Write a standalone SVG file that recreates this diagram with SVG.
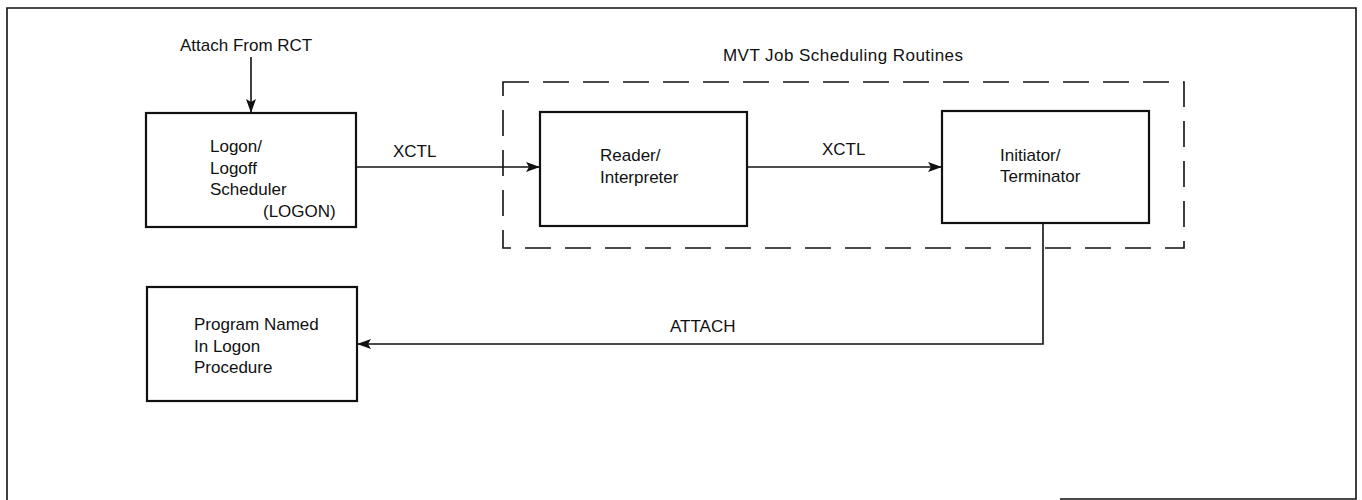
<svg xmlns="http://www.w3.org/2000/svg" width="1362" height="500" viewBox="0 0 1362 500">
<style>
text{font-family:"Liberation Sans",Arial,sans-serif;font-size:17px;fill:#111}
.box{fill:#fff;stroke:#111;stroke-width:2.2}
.ln{fill:none;stroke:#111;stroke-width:1.6}
.dash{fill:none;stroke:#111;stroke-width:1.6;stroke-dasharray:26 14}
</style>
<defs>
<marker id="ah" viewBox="0 0 14 10" refX="14" refY="5" markerWidth="14" markerHeight="10" markerUnits="userSpaceOnUse" orient="auto">
<path d="M0,0 L14,5 L0,10 L3,5 Z" fill="#111"/>
</marker>
</defs>
<path d="M7,500 L7,8 L1356,8 L1356,499 L1060,499" fill="none" stroke="#111" stroke-width="1.6"/>
<g id="group-mvt">
<rect class="dash" x="503" y="82" width="681" height="166"/>
<text x="723" y="61" textLength="240">MVT Job Scheduling Routines</text>
</g>
<g id="connectors">
<line class="ln" x1="251" y1="57" x2="251" y2="113" marker-end="url(#ah)"/>
<text x="180" y="51">Attach From RCT</text>
<line class="ln" x1="356" y1="167" x2="540" y2="167" marker-end="url(#ah)"/>
<text x="393" y="157">XCTL</text>
<line class="ln" x1="747" y1="167" x2="942" y2="167" marker-end="url(#ah)"/>
<text x="822" y="155">XCTL</text>
<polyline class="ln" points="1043,223 1043,344 357,344" marker-end="url(#ah)"/>
<text x="670" y="332">ATTACH</text>
</g>
<g id="node-logon">
<rect class="box" x="146" y="113" width="210" height="114"/>
<text x="210" y="152">Logon/</text>
<text x="210" y="174">Logoff</text>
<text x="210" y="195">Scheduler</text>
<text x="263" y="217">(LOGON)</text>
</g>
<g id="node-reader">
<rect class="box" x="540" y="112" width="207" height="114"/>
<text x="600" y="161">Reader/</text>
<text x="600" y="183">Interpreter</text>
</g>
<g id="node-initiator">
<rect class="box" x="942" y="111" width="207" height="112"/>
<text x="1000" y="161">Initiator/</text>
<text x="1000" y="182">Terminator</text>
</g>
<g id="node-program">
<rect class="box" x="147" y="287" width="210" height="114"/>
<text x="194" y="330">Program Named</text>
<text x="194" y="352">In Logon</text>
<text x="194" y="373">Procedure</text>
</g>
</svg>
